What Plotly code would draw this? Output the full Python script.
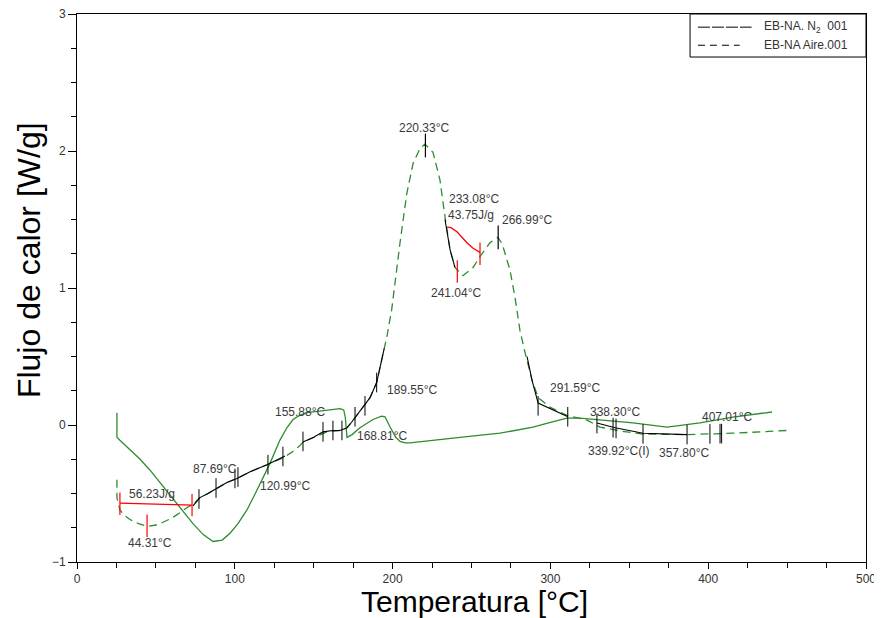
import plotly.graph_objects as go

# ---------------- data ----------------
n2_T = [25.3, 25.3, 27, 33.6, 40, 46.3, 52.6, 63.4, 73.5, 80, 86.2, 92, 97, 102, 107.7, 113,
        117.9, 122.3, 128.6, 133, 136.9, 141, 145.8, 152, 158.4, 166.7, 169, 170, 171.1, 174.3,
        179.3, 187.6, 193, 195.2, 198.4, 202, 204.7, 208, 211, 225.6, 242.7, 268, 289, 300,
        310.5, 318.8, 331.4, 352.3, 373.9, 394.8, 415.7, 440.4]
n2_Y = [0.09, -0.09, -0.11, -0.18, -0.25, -0.33, -0.42, -0.57, -0.72, -0.80, -0.85, -0.84,
        -0.79, -0.72, -0.62, -0.50, -0.38, -0.28, -0.11, -0.02, 0.04, 0.07, 0.09, 0.10, 0.11,
        0.12, 0.11, 0.06, -0.09, -0.07, -0.02, 0.04, 0.065, 0.06, -0.015, -0.09, -0.12, -0.13,
        -0.13, -0.11, -0.09, -0.06, -0.015, 0.02, 0.05, 0.05, 0.036, 0.015, -0.015, 0.015,
        0.058, 0.095]

air_T = [25.3, 25.3, 27.2, 30, 33.6, 39, 44.4, 50, 54.5, 60, 65.3, 70, 73.5, 77.9, 83, 88.7,
         95, 101.4, 110, 120.4, 130.5, 136, 141.3, 143.2, 150, 158.4, 166.7, 171.1, 174,
         177.2, 181.4, 185.7, 189.9, 192, 194.1, 196.3, 199.4, 202.5, 204.7, 209, 213, 217.4,
         220.5, 225.6, 230, 233.2, 236.4, 239.5, 244.6, 251, 255.4, 261.7, 266.8, 269.5,
         272.5, 274.4, 277.6, 280.7, 283.9, 288.3, 292.2, 299.7, 310.5, 323.2, 331.4, 345,
         358.7, 386.6, 415.7, 449.9]
air_Y = [-0.40, -0.53, -0.62, -0.66, -0.69, -0.72, -0.74, -0.73, -0.71, -0.68, -0.64, -0.60,
         -0.58, -0.53, -0.50, -0.46, -0.42, -0.39, -0.34, -0.29, -0.24, -0.20, -0.15, -0.124,
         -0.09, -0.05, -0.04, -0.02, 0.02, 0.07, 0.13, 0.20, 0.31, 0.42, 0.55, 0.64, 0.84,
         1.13, 1.33, 1.69, 1.91, 2.02, 2.05, 1.99, 1.79, 1.52, 1.28, 1.15, 1.09, 1.15, 1.23,
         1.33, 1.37, 1.32, 1.20, 1.13, 0.93, 0.69, 0.53, 0.33, 0.20, 0.13, 0.07, 0.036,
         -0.015, -0.045, -0.066, -0.07, -0.06, -0.04]

# black analysis segments
segA_T = [73.5, 77.9, 83, 88.7, 95, 101.4, 110, 120.4, 131.8]
segA_Y = [-0.59, -0.53, -0.50, -0.46, -0.42, -0.39, -0.34, -0.29, -0.226]
segB_T = [143.2, 150, 155.9, 162, 166.7, 171.1, 174, 177.2, 181.4, 185.7, 189.9, 192, 194.7]
segB_Y = [-0.124, -0.09, -0.05, -0.04, -0.04, -0.02, 0.02, 0.07, 0.13, 0.20, 0.31, 0.42, 0.56]
segC_T = [233.2, 236.4, 239.5]
segC_Y = [1.50, 1.28, 1.15]
segD_T = [285.2, 288.3, 292.2, 311.1]
segD_Y = [0.50, 0.33, 0.16, 0.06]
segE_T = [329.5, 341, 358.7, 386.6]
segE_Y = [0.015, -0.02, -0.06, -0.07]

# red integration lines
red1_T = [27.2, 72.9]
red1_Y = [-0.57, -0.585]
red2_T = [234.5, 237, 240.8, 244, 247.1, 251, 255.4]
red2_Y = [1.445, 1.44, 1.41, 1.37, 1.33, 1.29, 1.26]

# tick marks on the curves
blk_tick_T = [77.3, 88.1, 100.1, 102, 121, 130.5, 143.2, 155.9, 162.2, 167.9, 176.2, 182.5,
              189.9, 292.2, 311, 329.5, 339.7, 341.6, 358.7, 386.6, 401.1, 407.5, 408.5]
blk_tick_Y = [-0.54, -0.46, -0.39, -0.38, -0.29, -0.23, -0.12, -0.05, -0.04, -0.04, 0.06, 0.14,
              0.31, 0.14, 0.06, 0.01, -0.02, -0.025, -0.065, -0.07, -0.065, -0.063, -0.063]
peak_tick_T = [220.8, 266.9]
peak_tick_Y = [2.04, 1.37]
red_tick_T = [27.2, 72.9, 44.4, 241.0, 255.4]
red_tick_Y = [-0.575, -0.585, -0.735, 1.12, 1.25]

# labels
lab_text = ["220.33°C", "233.08°C", "43.75J/g", "266.99°C", "241.04°C", "291.59°C",
            "338.30°C", "339.92°C(I)", "357.80°C", "407.01°C", "189.55°C", "155.88°C",
            "168.81°C", "120.99°C", "87.69°C", "56.23J/g", "44.31°C"]
lab_T = [220.2, 234.5, 233.8, 268.1, 240.8, 298.5, 323.9, 322.5, 367.6, 394.8, 195.2, 124.2,
         176.2, 114.7, 72.2, 31.7, 46.3]
lab_Y = [2.17, 1.65, 1.53, 1.50, 0.96, 0.27, 0.095, -0.19, -0.205, 0.058, 0.255, 0.095,
         -0.08, -0.445, -0.32, -0.50, -0.86]
lab_anchor = ["center", "left", "left", "left", "center", "left", "left", "left", "left",
              "left", "left", "left", "left", "left", "left", "left", "center"]

legend_names = ["EB-NA. N<sub>2</sub>  001", "EB-NA Aire.001"]
legend_dash = ["12px,2px", "7px,5px"]

x_title = "Temperatura [°C]"
y_title = "Flujo de calor [W/g]"

GREEN = "#2e8b2e"
FONT = "Liberation Sans, Arial"
fig = go.Figure()

fig.add_trace(go.Scatter(x=n2_T, y=n2_Y, mode="lines", line=dict(color=GREEN, width=1.3),
                         name="EB-NA. N2 001", showlegend=False, hoverinfo="skip"))
fig.add_trace(go.Scatter(x=air_T, y=air_Y, mode="lines",
                         line=dict(color=GREEN, width=1.3, dash="8px,5px"),
                         name="EB-NA Aire.001", showlegend=False, hoverinfo="skip"))

for tx, ty in [(segA_T, segA_Y), (segB_T, segB_Y), (segC_T, segC_Y), (segD_T, segD_Y),
               (segE_T, segE_Y)]:
    fig.add_trace(go.Scatter(x=tx, y=ty, mode="lines", line=dict(color="black", width=1.1),
                             showlegend=False, hoverinfo="skip"))
for tx, ty in [(red1_T, red1_Y), (red2_T, red2_Y)]:
    fig.add_trace(go.Scatter(x=tx, y=ty, mode="lines", line=dict(color="red", width=1.3),
                             showlegend=False, hoverinfo="skip"))

fig.add_trace(go.Scatter(x=blk_tick_T, y=blk_tick_Y, mode="markers",
                         marker=dict(symbol="line-ns", size=14,
                                     line=dict(width=1, color="black")),
                         showlegend=False, hoverinfo="skip"))
fig.add_trace(go.Scatter(x=peak_tick_T, y=peak_tick_Y, mode="markers",
                         marker=dict(symbol="line-ns", size=17,
                                     line=dict(width=1.2, color="black")),
                         showlegend=False, hoverinfo="skip"))
fig.add_trace(go.Scatter(x=red_tick_T, y=red_tick_Y, mode="markers",
                         marker=dict(symbol="line-ns", size=16,
                                     line=dict(width=1.2, color="red")),
                         showlegend=False, hoverinfo="skip"))

for t, x, y, a in zip(lab_text, lab_T, lab_Y, lab_anchor):
    fig.add_annotation(x=x, y=y, text=t, showarrow=False, xanchor=a, yanchor="middle",
                       font=dict(family=FONT, size=12, color="#3a3a3a"))

# hand-drawn legend box (paper coordinates)
fig.add_shape(type="rect", xref="paper", yref="paper", x0=0.777, x1=1.0, y0=0.9215, y1=1.0,
              line=dict(color="black", width=1), fillcolor="white", layer="above")
leg_rows_y = [0.976, 0.943]
leg_line_x1 = [0.855, 0.840]
for name, dash, yy, x1 in zip(legend_names, legend_dash, leg_rows_y, leg_line_x1):
    fig.add_shape(type="line", xref="paper", yref="paper", x0=0.787, x1=x1, y0=yy, y1=yy,
                  line=dict(color="black", width=1, dash=dash), layer="above")
    fig.add_annotation(xref="paper", yref="paper", x=0.868, y=yy, text=name,
                       showarrow=False, xanchor="left", yanchor="middle",
                       font=dict(family=FONT, size=12, color="#333333"))

# axis titles as annotations
fig.add_annotation(xref="paper", yref="paper", x=0.5044, y=-0.0712, text=x_title,
                   showarrow=False, xanchor="center", yanchor="middle",
                   font=dict(family=FONT, size=30, color="black"))
fig.add_annotation(xref="paper", yref="paper", x=-0.0608, y=0.551, text=y_title,
                   showarrow=False, xanchor="center", yanchor="middle", textangle=-90,
                   font=dict(family=FONT, size=32, color="black"))

# the page body adds an 8px offset, so the figure is sized to fit inside the window
fig.update_layout(
    width=874, height=610,
    margin=dict(l=69, r=16, t=6, b=56),
    paper_bgcolor="white", plot_bgcolor="white",
    font=dict(family=FONT, color="#333333"),
    showlegend=False,
)
fig.update_xaxes(range=[0, 500], dtick=100, tick0=0, showgrid=False, zeroline=False,
                 showline=True, linecolor="black", linewidth=1, mirror=True,
                 ticks="outside", ticklen=6, tickcolor="black", automargin=False,
                 ticklabeloverflow="allow",
                 tickfont=dict(size=12, color="#333333"),
                 minor=dict(dtick=25, ticks="outside", ticklen=5, tickcolor="black"))
fig.update_yaxes(range=[-1, 3], dtick=1, tick0=0, showgrid=False, zeroline=False,
                 showline=True, linecolor="black", linewidth=1, mirror=True,
                 ticks="outside", ticklen=8, tickcolor="black", automargin=False,
                 ticklabeloverflow="allow",
                 tickfont=dict(size=12, color="#333333"),
                 minor=dict(dtick=0.25, ticks="outside", ticklen=5, tickcolor="black"))

fig.write_html("out.html")
